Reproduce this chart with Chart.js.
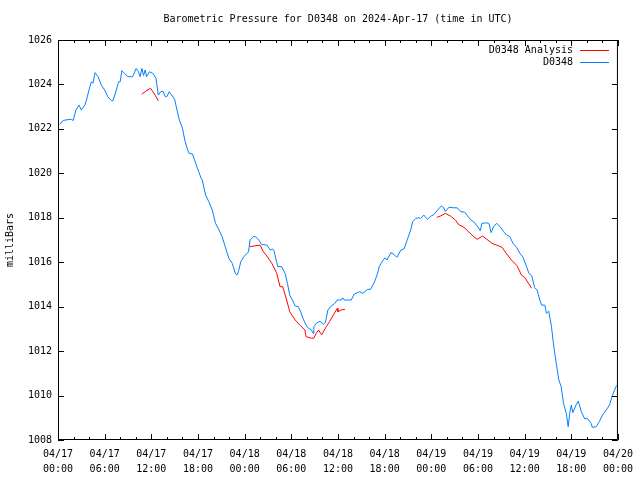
<!DOCTYPE html>
<html>
  <head>
    <script src="https://cdn.jsdelivr.net/npm/chart.js@4/dist/chart.umd.min.js"></script>
    <style>
      body {
        margin: 0;
        background: #fff;
      }
      #wrap {
        width: 640px;
        height: 480px;
      }
    </style>
  </head>
  <body>
    <div id="wrap"><canvas id="chart" width="640" height="480"></canvas></div>
    <script>
      // hours since 2024-04-17 00:00 UTC
      const dayLabels = ["04/17", "04/18", "04/19", "04/20"];
      const timeLabels = ["00:00", "06:00", "12:00", "18:00"];

      const obsHours = [
        0.26, 0.5, 0.9, 1.75, 1.95, 2.3, 2.7, 3.0, 3.45, 3.66, 4.1, 4.3, 4.5, 4.76, 5.15, 5.57,
        6.0, 6.4, 6.85, 7.07, 7.5, 7.8, 8.0, 8.2, 8.55, 9.0, 9.6, 10.05, 10.35, 10.55, 10.8, 11.0,
        11.2, 11.4, 11.75, 12.2, 12.6, 12.9, 13.2, 13.5, 13.8, 14.0, 14.3, 14.7, 15.0, 15.3, 15.6,
        16.0, 16.3, 16.6, 16.85, 17.3, 17.7, 18.1, 18.4, 18.55, 18.98, 19.4, 19.83, 20.26, 20.7,
        21.1, 21.5, 21.96, 22.4, 22.8, 23.0, 23.2, 23.5, 23.9, 24.5, 24.7, 25.15, 25.4, 25.8, 26.2,
        26.85, 27.3, 27.6, 27.8, 28.1, 28.25, 28.76, 29.2, 29.5, 29.8, 30.25, 30.5, 30.9, 31.2,
        31.5, 31.9, 32.2, 32.6, 32.8, 32.9, 33.2, 33.7, 34.1, 34.4, 34.7, 35.05, 35.6, 35.9, 36.4,
        36.6, 36.8, 37.7, 38.1, 38.8, 39.2, 39.8, 40.2, 40.7, 41.1, 41.3, 41.75, 42.05, 42.3, 42.8,
        43.2, 43.57, 44.1, 44.5, 44.9, 45.35, 45.6, 46.0, 46.4, 46.6, 47.05, 47.5, 47.9, 48.35,
        48.8, 49.3, 49.6, 49.8, 50.26, 50.9, 51.3, 51.8, 52.3, 52.6, 53.0, 53.45, 53.9, 54.3, 54.5,
        55.0, 55.4, 55.7, 56.0, 56.4, 56.85, 57.3, 57.7, 58.1, 58.5, 59.0, 59.4, 59.8, 60.26,
        60.55, 60.9, 61.3, 61.6, 61.95, 62.2, 62.6, 62.8, 63.1, 63.45, 63.75, 64.1, 64.4, 64.7,
        65.0, 65.36, 65.6, 65.8, 66.0, 66.2, 66.6, 66.9, 67.3, 67.7, 68.1, 68.55, 68.7, 69.2, 69.6,
        70.0, 70.5, 70.9, 71.3, 71.75, 72.0,
      ];
      const obsPressure = [
        1022.2, 1022.33, 1022.4, 1022.43, 1022.37, 1022.85, 1023.07, 1022.85, 1023.07, 1023.3,
        1023.9, 1024.12, 1024.05, 1024.53, 1024.35, 1023.97, 1023.75, 1023.45, 1023.27, 1023.27,
        1023.75, 1024.12, 1024.12, 1024.62, 1024.5, 1024.35, 1024.35, 1024.72, 1024.57, 1024.35,
        1024.72, 1024.4, 1024.65, 1024.35, 1024.57, 1024.5, 1024.28, 1023.52, 1023.67, 1023.7,
        1023.45, 1023.45, 1023.67, 1023.48, 1023.33, 1022.85, 1022.4, 1022.03, 1021.5, 1021.13,
        1020.9, 1020.87, 1020.45, 1020.07, 1019.78, 1019.7, 1019.02, 1018.72, 1018.35, 1017.75,
        1017.45, 1017.15, 1016.7, 1016.18, 1015.95, 1015.5, 1015.42, 1015.57, 1016.02, 1016.25,
        1016.47, 1017.0, 1017.15, 1017.15, 1017.0, 1016.8, 1016.77, 1016.55, 1016.6, 1016.5,
        1016.02, 1015.8, 1015.8, 1015.5, 1015.05, 1014.52, 1014.22, 1014.03, 1014.0, 1013.77,
        1013.47, 1013.17, 1013.03, 1012.95, 1012.8, 1013.1, 1013.25, 1013.35, 1013.2, 1013.3,
        1013.85, 1014.0, 1014.15, 1014.3, 1014.3, 1014.4, 1014.3, 1014.3, 1014.57, 1014.67,
        1014.6, 1014.78, 1014.78, 1015.12, 1015.5, 1015.8, 1016.07, 1016.2, 1016.1, 1016.43,
        1016.35, 1016.22, 1016.55, 1016.6, 1017.0, 1017.45, 1017.82, 1017.97, 1018.0, 1017.97,
        1018.12, 1017.93, 1018.06, 1018.15, 1018.35, 1018.53, 1018.45, 1018.28, 1018.47, 1018.45,
        1018.45, 1018.28, 1018.25, 1018.12, 1017.93, 1017.82, 1017.63, 1017.42, 1017.75, 1017.77,
        1017.75, 1017.33, 1017.6, 1017.75, 1017.6, 1017.37, 1017.22, 1017.15, 1016.85, 1016.65,
        1016.4, 1016.22, 1015.8, 1015.5, 1015.4, 1014.85, 1014.75, 1014.3, 1014.07, 1014.07,
        1013.7, 1013.8, 1013.1, 1012.2, 1011.37, 1010.7, 1010.4, 1009.65, 1009.2, 1008.6, 1009.2,
        1009.57, 1009.23, 1009.57, 1009.75, 1009.27, 1008.97, 1008.95, 1008.75, 1008.57, 1008.6,
        1008.82, 1009.12, 1009.35, 1009.57, 1010.02, 1010.4, 1010.5,
      ];

      // analysis runs, null = gap between runs
      const anaHours = [
        10.77, 11.3, 11.9, 12.4, 12.9, 18.0,
        24.7, 26.0, 26.4, 26.85, 27.5, 28.1, 28.55, 28.9, 29.4, 29.8, 30.5, 31.1, 31.75, 31.9,
        32.6, 32.9, 33.2, 33.5, 33.9, 34.5, 34.9, 35.4, 35.9, 36.0, 36.4, 36.9, 42.0,
        48.7, 49.2, 49.8, 50.45, 51.1, 51.5, 52.2, 52.8, 53.45, 53.9, 54.6, 55.15, 55.8, 56.4,
        57.1, 57.7, 58.3, 59.0, 59.6, 60.0, 60.5, 60.9,
      ];
      const anaPressure = [
        1023.56, 1023.7, 1023.83, 1023.57, 1023.27, null,
        1016.7, 1016.77, 1016.47, 1016.28, 1015.95, 1015.53, 1014.9, 1014.9, 1014.3, 1013.77,
        1013.4, 1013.17, 1012.95, 1012.65, 1012.58, 1012.58, 1012.8, 1012.95, 1012.73, 1013.1,
        1013.32, 1013.62, 1013.92, 1013.77, 1013.85, 1013.88, null,
        1018.02, 1018.08, 1018.2, 1018.08, 1017.9, 1017.7, 1017.57, 1017.37, 1017.15, 1017.03,
        1017.18, 1017.03, 1016.85, 1016.77, 1016.67, 1016.37, 1016.1, 1015.85, 1015.42, 1015.32,
        1015.05, 1014.83,
      ];

      const FONT = "'DejaVu Sans Mono', monospace";
      const RED = "rgb(255,0,0)";
      const BLUE = "rgb(0,128,255)";

      const to_points = (xs, ys) => xs.map((x, i) => ({ x: x, y: ys[i] }));

      const tick_label = (value) => {
        if (value % 6 !== 0) return "";
        const day = dayLabels[Math.floor(value / 24)];
        const time = timeLabels[(value % 24) / 6];
        return [day, time];
      };

      // gnuplot style frame, inward ticks, title and key
      const gnuplot_frame = {
        id: "gnuplot_frame",
        afterDraw: (chart) => {
          const ctx = chart.ctx;
          const a = chart.chartArea;
          const xs = chart.scales.x;
          const ys = chart.scales.y;
          ctx.save();
          ctx.strokeStyle = "#000";
          ctx.lineWidth = 1;
          ctx.beginPath();
          ctx.rect(a.left + 0.5, a.top + 0.5, a.right - a.left - 1, a.bottom - a.top - 1);
          xs.ticks.forEach((t) => {
            const px = Math.round(xs.getPixelForValue(t.value)) + 0.5;
            const len = t.value % 6 === 0 ? 6 : 3;
            ctx.moveTo(px, a.bottom);
            ctx.lineTo(px, a.bottom - len);
            ctx.moveTo(px, a.top);
            ctx.lineTo(px, a.top + len);
          });
          ys.ticks.forEach((t) => {
            const py = Math.round(ys.getPixelForValue(t.value)) + 0.5;
            ctx.moveTo(a.left, py);
            ctx.lineTo(a.left + 6, py);
            ctx.moveTo(a.right, py);
            ctx.lineTo(a.right - 6, py);
          });
          ctx.stroke();

          ctx.fillStyle = "#000";
          ctx.font = "10px " + FONT;
          ctx.textBaseline = "middle";
          ctx.textAlign = "center";
          ctx.fillText("Barometric Pressure for D0348 on 2024-Apr-17 (time in UTC)", (a.left + a.right) / 2, 19);

          ctx.save();
          ctx.translate(10, (a.top + a.bottom) / 2);
          ctx.rotate(-Math.PI / 2);
          ctx.fillText("milliBars", 0, 0);
          ctx.restore();

          ctx.textAlign = "right";
          chart.data.datasets.forEach((ds, i) => {
            const y = 50 + i * 12;
            ctx.fillStyle = "#000";
            ctx.fillText(ds.label, 573, y);
            ctx.strokeStyle = ds.borderColor;
            ctx.beginPath();
            ctx.moveTo(580, y + 0.5);
            ctx.lineTo(609, y + 0.5);
            ctx.stroke();
          });
          ctx.restore();
        },
      };

      new Chart(document.getElementById("chart"), {
        type: "line",
        data: {
          datasets: [
            {
              label: "D0348 Analysis",
              data: to_points(anaHours, anaPressure),
              borderColor: RED,
              borderWidth: 1,
              pointRadius: 0,
              spanGaps: false,
            },
            {
              label: "D0348",
              data: to_points(obsHours, obsPressure),
              borderColor: BLUE,
              borderWidth: 1,
              pointRadius: 0,
            },
          ],
        },
        options: {
          responsive: false,
          animation: false,
          events: [],
          layout: { padding: { left: 0, right: 18, top: 40, bottom: 0 } },
          plugins: { legend: { display: false }, title: { display: false }, tooltip: { enabled: false } },
          scales: {
            x: {
              type: "linear",
              min: 0,
              max: 72,
              grid: { display: false, drawTicks: false },
              border: { display: false },
              afterFit: (scale) => {
                scale.height = 40;
              },
              ticks: {
                stepSize: 2,
                autoSkip: false,
                maxRotation: 0,
                padding: 7,
                color: "#000",
                font: { family: FONT, size: 10, lineHeight: 1.5 },
                callback: (value) => tick_label(value),
              },
            },
            y: {
              min: 1008,
              max: 1026,
              grid: { display: false, drawTicks: false },
              border: { display: false },
              afterFit: (scale) => {
                scale.width = 58;
              },
              ticks: {
                stepSize: 2,
                padding: 6,
                color: "#000",
                font: { family: FONT, size: 10 },
                callback: (value) => String(value),
              },
            },
          },
        },
        plugins: [gnuplot_frame],
      });
    </script>
  </body>
</html>
